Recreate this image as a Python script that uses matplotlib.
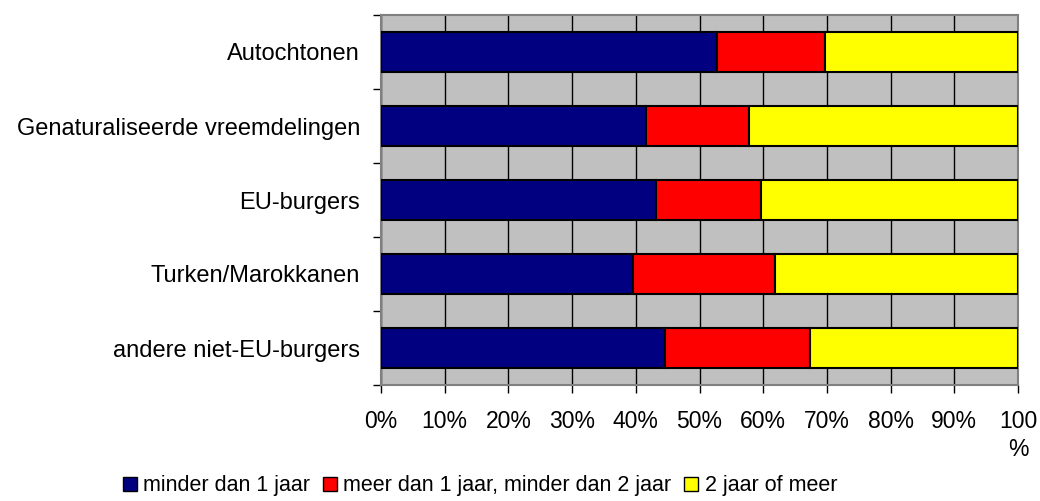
import matplotlib
matplotlib.use("Agg")
import matplotlib.pyplot as plt
import numpy as np
from matplotlib.patches import Patch

plt.rcParams['font.family'] = ['Liberation Sans', 'DejaVu Sans']

categories = ["Autochtonen", "Genaturaliseerde vreemdelingen", "EU-burgers",
              "Turken/Marokkanen", "andere niet-EU-burgers"]
series_names = ["minder dan 1 jaar", "meer dan 1 jaar, minder dan 2 jaar", "2 jaar of meer"]
minder_1 = [52.7, 41.6, 43.2, 39.5, 44.6]
tussen_1_2 = [17.0, 16.2, 16.5, 22.3, 22.7]
meer_2 = [30.3, 42.2, 40.3, 38.2, 32.7]
xtick_labels = ["0%", "10%", "20%", "30%", "40%", "50%", "60%", "70%", "80%", "90%", "100\n%"]

colors = ["#000080", "#FF0000", "#FFFF00"]

fig = plt.figure(figsize=(10.4, 5.01), dpi=100)
ax = fig.add_axes([381/1040, 1 - 385/501, (1018-381)/1040, (385-15)/501])
ax.set_facecolor("#C0C0C0")

y = np.arange(len(categories))
left = np.zeros(len(categories))
for vals, c in zip([minder_1, tussen_1_2, meer_2], colors):
    ax.barh(y, vals, left=left, height=0.55, color=c, edgecolor="black",
            linewidth=1.5, zorder=3)
    left = left + np.array(vals)

ax.set_xlim(0, 100)
ax.set_ylim(len(categories) - 0.5, -0.5)
ax.set_xticks(np.arange(0, 101, 10))
ax.set_xticklabels(xtick_labels, fontsize=16.5, va="top", linespacing=1.25)
ax.tick_params(axis="x", length=6, width=1, color="black", pad=12)
ax.xaxis.grid(True, color="black", linewidth=1, zorder=1)
ax.set_axisbelow(True)

ax.set_yticks(y)
ax.set_yticklabels(categories, fontsize=17)
ax.tick_params(axis="y", which="major", length=0, pad=15)
ax.set_yticks(np.arange(-0.5, len(categories), 1), minor=True)
ax.tick_params(axis="y", which="minor", length=6, width=1, color="black")

for s in ax.spines.values():
    s.set_color("#808080")
    s.set_linewidth(1.5)

handles = [Patch(facecolor=c, edgecolor="black", linewidth=1.0) for c in colors]
fig.legend(handles, series_names, loc="center", bbox_to_anchor=(480/1040, 1 - 486/501),
           ncol=3, frameon=False, fontsize=15.5, handlelength=0.65, handleheight=0.65,
           handletextpad=0.3, columnspacing=0.6, borderpad=0, borderaxespad=0)

fig.savefig("out.png", dpi=100)
